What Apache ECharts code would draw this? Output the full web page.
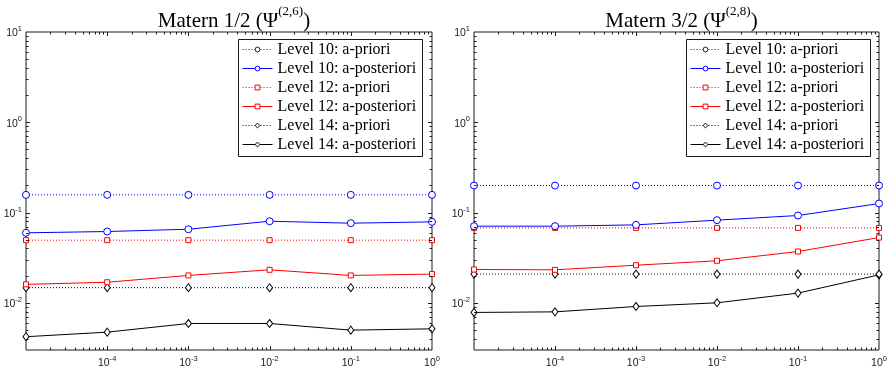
<!DOCTYPE html>
<html>
<head>
<meta charset="utf-8">
<script src="https://cdn.jsdelivr.net/npm/echarts@6/dist/echarts.min.js"></script>
<style>
  html, body { margin: 0; padding: 0; background: #fff; }
  #chart { width: 890px; height: 374px; }
</style>
</head>
<body>
<div id="chart"></div>
<script>
// x positions (regularisation parameter), shared by both panels
const xValues = [1e-5, 1e-4, 1e-3, 1e-2, 1e-1, 1];
const seriesNames = [
  'Level 10: a-priori',
  'Level 10: a-posteriori',
  'Level 12: a-priori',
  'Level 12: a-posteriori',
  'Level 14: a-priori',
  'Level 14: a-posteriori'
];
const panelTitles = ['Matern 1/2', 'Matern 3/2'];
const panelSups = ['(2,6)', '(2,8)'];

// Matern 1/2
const m12L10Prior = [0.157, 0.157, 0.157, 0.157, 0.157, 0.157];
const m12L10Post  = [0.0596, 0.0616, 0.0653, 0.0801, 0.0762, 0.0788];
const m12L12Prior = [0.0494, 0.0494, 0.0494, 0.0494, 0.0494, 0.0494];
const m12L12Post  = [0.0160, 0.0169, 0.0201, 0.0232, 0.0201, 0.0208];
const m12L14Prior = [0.0147, 0.0147, 0.0147, 0.0147, 0.0147, 0.0147];
const m12L14Post  = [0.00421, 0.00473, 0.0059, 0.0059, 0.00498, 0.00515];

// Matern 3/2
const m32L10Prior = [0.199, 0.199, 0.199, 0.199, 0.199, 0.199];
const m32L10Post  = [0.0706, 0.0706, 0.0730, 0.0823, 0.0927, 0.1258];
const m32L12Prior = [0.0676, 0.0676, 0.0676, 0.0676, 0.0676, 0.0676];
const m32L12Post  = [0.0234, 0.0232, 0.0261, 0.0292, 0.0370, 0.0528];
const m32L14Prior = [0.0208, 0.0208, 0.0208, 0.0208, 0.0208, 0.0208];
const m32L14Post  = [0.00782, 0.00794, 0.0091, 0.0100, 0.0128, 0.0204];

const panelData = [
  [m12L10Prior, m12L10Post, m12L12Prior, m12L12Post, m12L14Prior, m12L14Post],
  [m32L10Prior, m32L10Post, m32L12Prior, m32L12Post, m32L14Prior, m32L14Post]
];

const X_MIN = 1e-5, X_MAX = 1, Y_MIN = 0.003, Y_MAX = 10;

const AXIS_COLOR = '#1a1a1a';
const SERIF = '"Liberation Serif", "DejaVu Serif", serif';
const SANS = '"Liberation Sans", Arial, sans-serif';

const grids = [
  { left: 26, top: 32, width: 406, height: 318 },
  { left: 474, top: 32, width: 405, height: 318 }
];
const legendPos = [{ left: 238, top: 39 }, { left: 686, top: 39 }];
const legendBox = { width: 184, height: 117 };

const lineStyles = [
  { color: '#0000ff', dotted: true,  symbol: 'circle',  size: 7 },
  { color: '#0000ff', dotted: false, symbol: 'circle',  size: 7 },
  { color: '#ff0000', dotted: true,  symbol: 'rect',    size: 5 },
  { color: '#ff0000', dotted: false, symbol: 'rect',    size: 5 },
  { color: '#000000', dotted: true,  symbol: 'diamond', size: [6, 8] },
  { color: '#000000', dotted: false, symbol: 'diamond', size: [6, 8] }
];

function powLabel(v) {
  const e = Math.round(Math.log10(v));
  if (Math.abs(Math.log10(v) - e) > 1e-6) return '';
  return '{b|10}{s|' + e + '}';
}

const labelRich = {
  b: { fontSize: 10.5, fontFamily: SANS, color: AXIS_COLOR, lineHeight: 14, verticalAlign: 'bottom' },
  s: { fontSize: 7.5, fontFamily: SANS, color: AXIS_COLOR, lineHeight: 8, verticalAlign: 'top' }
};

const chart = echarts.init(document.getElementById('chart'));

const option = {
  animation: false,
  backgroundColor: '#fff',
  title: panelTitles.map((t, i) => ({
    text: '{t|' + t + ' (Ψ}{s|' + panelSups[i] + '}{t|)}',
    left: grids[i].left + grids[i].width / 2,
    top: 0,
    textAlign: 'center',
    textStyle: {
      fontWeight: 'normal',
      rich: {
        t: { fontSize: 21, fontWeight: 'normal', fontFamily: SERIF, color: '#000', lineHeight: 27, verticalAlign: 'bottom' },
        s: { fontSize: 13, fontWeight: 'normal', fontFamily: SERIF, color: '#000', lineHeight: 14, verticalAlign: 'top' }
      }
    }
  })),
  // legend background left transparent: a filled/stroked background
  // leaks its colour into the first icon. The frame is drawn below.
  legend: legendPos.map(p => ({
    orient: 'vertical',
    left: p.left,
    top: p.top,
    data: seriesNames.map((n, i) => ({
      name: n,
      itemStyle: { color: '#fff', borderColor: lineStyles[i].color, borderWidth: 1 },
      lineStyle: { color: lineStyles[i].color, width: 1, type: lineStyles[i].dotted ? [1, 2] : 'solid' }
    })),
    padding: [2, 5, 2, 4],
    itemGap: 2,
    itemWidth: 30,
    itemHeight: 6,
    selectedMode: false,
    textStyle: { fontFamily: SERIF, fontSize: 16, color: '#000', lineHeight: 17 }
  })),
  grid: grids.map(g => ({
    left: g.left, top: g.top, width: g.width, height: g.height,
    show: true, borderColor: AXIS_COLOR, borderWidth: 1, backgroundColor: 'transparent'
  })),
  xAxis: grids.map((g, i) => ({
    type: 'log', logBase: 10, gridIndex: i, min: X_MIN, max: X_MAX,
    axisLine: { show: false },
    axisTick: { show: false },
    splitLine: { show: false },
    axisLabel: { showMinLabel: false, margin: 5, formatter: powLabel, rich: labelRich }
  })),
  yAxis: grids.map((g, i) => ({
    type: 'log', logBase: 10, gridIndex: i, min: Y_MIN, max: Y_MAX, splitNumber: 4,
    axisLine: { show: false },
    axisTick: { show: false },
    splitLine: { show: false },
    axisLabel: { showMinLabel: false, margin: 4, formatter: powLabel, rich: labelRich }
  })),
  series: []
};

panelData.forEach((arrs, pi) => {
  arrs.forEach((ys, si) => {
    const st = lineStyles[si];
    option.series.push({
      name: seriesNames[si],
      type: 'line',
      xAxisIndex: pi,
      yAxisIndex: pi,
      data: xValues.map((x, k) => [x, ys[k]]),
      symbol: st.symbol,
      symbolSize: st.size,
      showAllSymbol: true,
      clip: false,
      lineStyle: { color: st.color, width: 1, type: st.dotted ? [1, 2] : 'solid' },
      itemStyle: { color: '#fff', borderColor: st.color, borderWidth: 1 },
      emphasis: { disabled: true },
      z: 10 - si
    });
  });
});

chart.setOption(option);

// log-scale major/minor ticks on all four sides of each box, plus legend frames
function buildDecor() {
  const els = [];
  const MAJ = 4, MIN = 2.5;
  const seg = (x1, y1, x2, y2) => els.push({
    type: 'line', silent: true, z: 50,
    shape: { x1, y1, x2, y2 },
    style: { stroke: AXIS_COLOR, lineWidth: 1 }
  });
  grids.forEach((g, gi) => {
    const top = g.top, bottom = g.top + g.height;
    const left = g.left, right = g.left + g.width;
    for (let e = -6; e <= 1; e++) {
      for (let k = 1; k <= 9; k++) {
        const v = k * Math.pow(10, e);
        const len = k === 1 ? MAJ : MIN;
        if (v > X_MIN * 1.0001 && v < X_MAX * 0.9999) {
          const px = Math.round(chart.convertToPixel({ gridIndex: gi }, [v, 1])[0]) + 0.5;
          seg(px, bottom, px, bottom - len);
          seg(px, top, px, top + len);
        }
        if (v > Y_MIN * 1.0001 && v < Y_MAX * 0.9999) {
          const py = Math.round(chart.convertToPixel({ gridIndex: gi }, [1e-2, v])[1]) + 0.5;
          seg(left, py, left + len, py);
          seg(right, py, right - len, py);
        }
      }
    }
  });
  legendPos.forEach(p => els.push({
    type: 'rect', silent: true, z: 60,
    shape: { x: p.left + 0.5, y: p.top + 0.5, width: legendBox.width, height: legendBox.height },
    style: { fill: null, stroke: AXIS_COLOR, lineWidth: 1 }
  }));
  return els;
}

chart.setOption({ graphic: { elements: buildDecor() } });
</script>
</body>
</html>
